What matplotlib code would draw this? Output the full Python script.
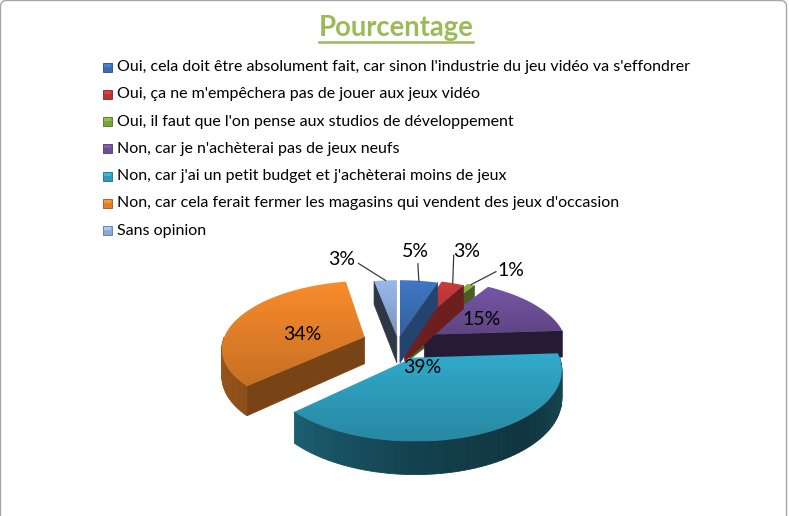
import numpy as np
import matplotlib
matplotlib.use('Agg')
import matplotlib.pyplot as plt
from matplotlib.patches import Polygon, Rectangle, FancyBboxPatch
from matplotlib.colors import to_rgb

# Data

title = 'Pourcentage'
categories = [
    "Oui, cela doit être absolument fait, car sinon l'industrie du jeu vidéo va s'effondrer",
    "Oui, ça ne m'empêchera pas de jouer aux jeux vidéo",
    "Oui, il faut que l'on pense aux studios de développement",
    "Non, car je n'achèterai pas de jeux neufs",
    "Non, car j'ai un petit budget et j'achèterai moins de jeux",
    "Non, car cela ferait fermer les magasins qui vendent des jeux d'occasion",
    "Sans opinion",
]
values = [5, 3, 1, 15, 39, 34, 3]
colors = ['#3A6DB3', '#B83535', '#7BA23C', '#6B4E95', '#2D9BB9', '#E27F28', '#8CA8D5']
explode = [0.09, 0.12, 0.16, 0.22, 0.25, 0.25, 0.09]

# label placement: ('in', radius, angle shift) or ('out', dx, dy, elbow dx, elbow dy)
label_place = [
    ('out', -3, -29, 2, 12),
    ('out', 14, -32, -13, 4),
    ('out', 40, -14, -15, 1),
    ('in', 0.5, 0),
    ('in', 0.15, 0),
    ('in', 0.45, -13),
    ('out', -44, -21, 17, 4),
]

# Layout of the fake 3d pie (pixels)
W, H = 789, 516
CX, CY = 398, 342
RX, RY = 142, 66
DEPTH = 27
PERSP = 0.15

FONT = ['Lato', 'DejaVu Sans']


def project(u, v, z=0.0):
    s = 1 + PERSP * np.asarray(v)
    return CX + RX * np.asarray(u) / s, CY - RY * np.asarray(v) / s + DEPTH * z / s


def shade(color, f):
    return tuple(np.clip(np.array(to_rgb(color)) * f, 0, 1))


def gradient_poly(ax, xy, color, zorder):
    patch = Polygon(xy, closed=True, facecolor='none', edgecolor='none', zorder=zorder)
    ax.add_patch(patch)
    x0, y0 = xy.min(axis=0)
    x1, y1 = xy.max(axis=0)
    t = np.linspace(0, 1, 64)
    img = np.array([shade(color, 1.1 - 0.22 * k) for k in t])[:, None, :]
    im = ax.imshow(img, extent=(x0, x1, y1, y0), origin='upper', aspect='auto',
                   interpolation='bilinear', zorder=zorder)
    im.set_clip_path(patch)


fig = plt.figure(figsize=(W / 100, H / 100), dpi=100)
ax = fig.add_axes([0, 0, 1, 1])
ax.set_xlim(0, W)
ax.set_ylim(H, 0)
ax.axis('off')
renderer = fig.canvas.get_renderer()


def fit_size(text, target_w, **kw):
    t = ax.text(0, 0, text, fontsize=10, family=FONT, **kw)
    w = t.get_window_extent(renderer).width
    t.remove()
    return 10 * target_w / w


# chart area frame
ax.add_patch(FancyBboxPatch((0.5, 0.5), W - 3, H + 20, boxstyle='round,pad=0,rounding_size=6',
                            facecolor='white', edgecolor='#A6A6A6', lw=1.0, zorder=0))

# title with underline
fs_title = fit_size(title, 156, weight='bold')
tt = ax.text(396, 36, title, fontsize=fs_title, weight='bold', color='#9BBB59',
             ha='center', va='baseline', family=FONT, zorder=5)
bb = tt.get_window_extent(renderer).transformed(ax.transData.inverted())
ax.plot([bb.x0, bb.x1], [41.5, 41.5], color='#9BBB59', lw=1.8, zorder=5)

# legend
fs_leg = fit_size(categories[0], 577)
for i, (cat, col) in enumerate(zip(categories, colors)):
    yb = 71 + i * 27.3
    ax.add_patch(Rectangle((103, yb - 8.5), 9, 9, facecolor=col,
                           edgecolor=shade(col, 0.7), lw=0.6, zorder=5))
    ax.add_patch(Rectangle((104, yb - 7.5), 7, 3, facecolor=shade(col, 1.2),
                           edgecolor='none', zorder=6))
    ax.text(117.5, yb, cat, fontsize=fs_leg, va='baseline', ha='left',
            family=FONT, color='black', zorder=5)

# 3d pie
fs_pct = fit_size('39%', 38)
bounds = np.concatenate([[0], np.cumsum(values)]) * 360.0 / sum(values)

slices = []
for i in range(len(values)):
    a1, a2 = bounds[i], bounds[i + 1]
    mid = np.radians((a1 + a2) / 2)
    cu, cv = explode[i] * np.sin(mid), explode[i] * np.cos(mid)
    slices.append((cv, i, a1, a2, cu))

z = 10
for cv, i, a1, a2, cu in sorted(slices, reverse=True):
    col = colors[i]
    th = np.radians(np.linspace(a1, a2, max(8, int(a2 - a1) + 2)))
    u_arc, v_arc = cu + np.sin(th), cv + np.cos(th)

    # radial cut faces
    for a, side in ((a1, 1), (a2, 2)):
        ar = np.radians(a)
        if side == 1 and np.sin(ar) >= -1e-9:
            continue
        if side == 2 and np.sin(ar) <= 1e-9:
            continue
        nu = -np.cos(ar) if side == 1 else np.cos(ar)
        pu = [cu, cu + np.sin(ar), cu + np.sin(ar), cu]
        pv = [cv, cv + np.cos(ar), cv + np.cos(ar), cv]
        pz = [0, 0, 1, 1]
        xs, ys = zip(*[project(pu[k], pv[k], pz[k]) for k in range(4)])
        fc = shade(col, 0.33 + 0.3 * max(0, nu))
        ax.add_patch(Polygon(np.column_stack([xs, ys]), closed=True, facecolor=fc,
                             edgecolor=fc, lw=0.5, zorder=z))
    z += 1

    # outer wall (front half only)
    lo, hi = max(a1, 90), min(a2, 270)
    if hi > lo:
        ts = np.linspace(lo, hi, max(2, int((hi - lo) / 2) + 2))
        for t0, t1 in zip(ts[:-1], ts[1:]):
            r0, r1 = np.radians(t0), np.radians(t1)
            uu = [cu + np.sin(r0), cu + np.sin(r1), cu + np.sin(r1), cu + np.sin(r0)]
            vv = [cv + np.cos(r0), cv + np.cos(r1), cv + np.cos(r1), cv + np.cos(r0)]
            zz = [0, 0, 1, 1]
            xs, ys = zip(*[project(uu[k], vv[k], zz[k]) for k in range(4)])
            f = np.interp((t0 + t1) / 2, [90, 140, 180, 230, 270], [0.5, 0.34, 0.42, 0.62, 0.68])
            fc = shade(col, f)
            ax.add_patch(Polygon(np.column_stack([xs, ys]), closed=True, facecolor=fc,
                                 edgecolor=fc, lw=0.6, zorder=z))
    z += 1

    # top face
    xs, ys = project(np.concatenate([[cu], u_arc]), np.concatenate([[cv], v_arc]))
    gradient_poly(ax, np.column_stack([xs, ys]), col, z)
    z += 1

    # value label
    pl = label_place[i]
    mid = (a1 + a2) / 2
    txt = f'{values[i]}%'
    if pl[0] == 'in':
        am = np.radians(mid + pl[2])
        lx, ly = project(cu + pl[1] * np.sin(am), cv + pl[1] * np.cos(am))
        ax.text(lx, ly, txt, fontsize=fs_pct, ha='center', va='center',
                family=FONT, color='black', zorder=50)
    else:
        am = np.radians(mid)
        px, py = project(cu + np.sin(am), cv + np.cos(am))
        lx, ly = px + pl[1], py + pl[2]
        ax.plot([px, lx + pl[3]], [py, ly + pl[4]], color='#3A3A3A', lw=0.9, zorder=50)
        ax.text(lx, ly, txt, fontsize=fs_pct, ha='center', va='center',
                family=FONT, color='black', zorder=50)

ax.set_xlim(0, W)
ax.set_ylim(H, 0)
fig.savefig('out.png', dpi=100)
